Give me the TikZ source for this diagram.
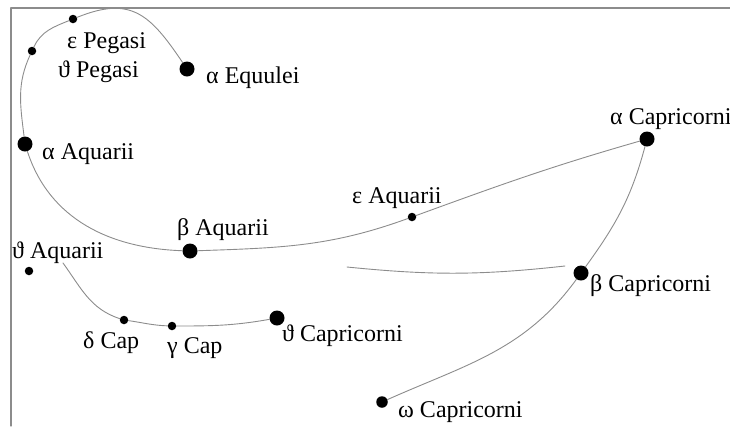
\documentclass[tikz,border=0pt]{standalone}
\usepackage{fontspec}
\setmainfont{Liberation Serif}
\begin{document}
\begin{tikzpicture}[x=1bp, y=1bp, line cap=round, line join=round,
    star/.style={circle, fill=black, inner sep=0pt, minimum size=8.5bp},
    bright/.style={star, minimum size=15bp},
    mid/.style={star, minimum size=11.5bp},
    lbl/.style={anchor=base west, inner sep=0pt, font=\fontsize{24bp}{28bp}\selectfont},
    track/.style={draw=black!45, line width=0.9bp}]
  \useasboundingbox (0,0) rectangle (730,-426);
  \draw[black!45, line width=1.2bp] (11,-426) -- (11,-8) -- (730,-8);
  % Pegasus, Equuleus, Aquarius
  \node[star] (ePeg) at (73,-19) {};
  \node[star] (tPeg) at (32,-51) {};
  \node[bright] (aEqu) at (187,-69) {};
  \node[bright] (aAqr) at (25,-144) {};
  \node[bright] (bAqr) at (190,-251) {};
  \node[star] (eAqr) at (412,-217) {};
  \node[star] (tAqr) at (29,-271) {};
  \node[lbl] (ePegL) at (67,-48) {ε Pegasi};
  \node[lbl] (tPegL) at (58,-77) {ϑ Pegasi};
  \node[lbl] (aEquL) at (206,-83) {α Equulei};
  \node[lbl] (aAqrL) at (42,-159) {α Aquarii};
  \node[lbl] (bAqrL) at (177,-235) {β Aquarii};
  \node[lbl] (eAqrL) at (352,-203) {ε Aquarii};
  \node[lbl] (tAqrL) at (12,-258) {ϑ Aquarii};
  % Capricornus
  \node[bright] (aCap) at (647,-139) {};
  \node[bright] (bCap) at (581,-273) {};
  \node[mid] (oCap) at (382,-402) {};
  \node[star] (dCap) at (124,-320) {};
  \node[star] (gCap) at (172,-326) {};
  \node[bright] (tCap) at (277,-318) {};
  \node[lbl] (aCapL) at (610,-124) {α Capricorni};
  \node[lbl] (bCapL) at (590,-291) {β Capricorni};
  \node[lbl] (oCapL) at (398,-417) {ω Capricorni};
  \node[lbl] (dCapL) at (83,-348) {δ Cap};
  \node[lbl] (gCapL) at (167,-353) {γ Cap};
  \node[lbl] (tCapL) at (282,-341) {ϑ Capricorni};
  \coordinate (c0) at (63,-263);
  \coordinate (s0) at (347,-267);
  \coordinate (s1) at (565,-266);
  \draw[track] (aEqu) to[out=124, in=22, looseness=1.3] (ePeg)
    to[out=202, in=65] (tPeg) to[out=245, in=97] (aAqr)
    to[out=288, in=178] (bAqr) to[out=2, in=200] (eAqr)
    to[out=20, in=196] (aCap);
  \draw[track] (aCap) to[out=255, in=54] (bCap) to[out=234, in=24] (oCap);
  \draw[track] (c0) to[out=306, in=162] (dCap) to[out=-8, in=178] (gCap)
    to[out=0, in=190] (tCap);
  \draw[track] (s0) to[bend right=6] (s1);
\end{tikzpicture}
\end{document}
